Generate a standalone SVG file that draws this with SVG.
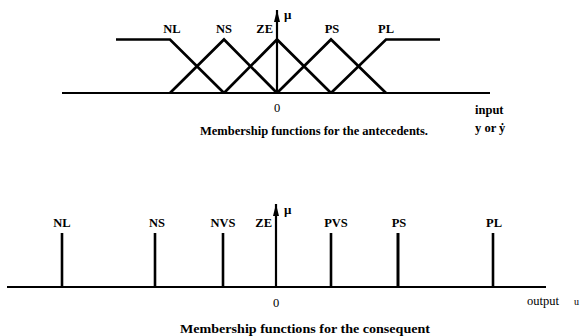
<svg xmlns="http://www.w3.org/2000/svg" width="584" height="336" viewBox="0 0 584 336">
<defs>
<marker id="arr" viewBox="0 0 12 6" refX="12" refY="3" markerWidth="12" markerHeight="6" markerUnits="userSpaceOnUse" orient="auto">
<path d="M12,3 L0,6 L0,0 Z" fill="#000"/>
</marker>
<style>
.ln{stroke:#000;fill:none;stroke-width:2.2}
.mf{stroke:#000;fill:none;stroke-width:2.7;stroke-linejoin:miter}
.stem{stroke:#000;stroke-width:2.6}
.lb{font-family:"Liberation Serif","Times New Roman",serif;font-weight:bold;font-size:12.5px;fill:#000}
.mu{font-family:"Liberation Serif","Times New Roman",serif;font-weight:bold;font-size:13px;fill:#000}
.tx{font-family:"Liberation Serif","Times New Roman",serif;font-size:12.5px;fill:#000}
</style>
</defs>
<rect width="584" height="336" fill="#fff"/>

<g id="connectors">
<line class="ln" x1="62" y1="93" x2="490" y2="93"/>
<line class="ln" x1="277" y1="93" x2="277" y2="10" marker-end="url(#arr)"/>
<line class="ln" x1="7" y1="287" x2="546" y2="287"/>
<line class="ln" x1="276" y1="287" x2="276" y2="204" marker-end="url(#arr)"/>
</g>

<g id="antecedents">
<g id="mf-NL"><polyline class="mf" points="116,39.5 170,39.5 224,93"/><text class="lb" x="172" y="33" text-anchor="middle">NL</text></g>
<g id="mf-NS"><polyline class="mf" points="170,93 224,39.5 277,93"/><text class="lb" x="224" y="33" text-anchor="middle">NS</text></g>
<g id="mf-ZE"><polyline class="mf" points="224,93 277,39.5 331,93"/><text class="lb" x="273" y="33" text-anchor="end">ZE</text></g>
<g id="mf-PS"><polyline class="mf" points="277,93 331,39.5 386,93"/><text class="lb" x="332" y="33" text-anchor="middle">PS</text></g>
<g id="mf-PL"><polyline class="mf" points="331,93 386,39.5 440,39.5"/><text class="lb" x="386" y="33" text-anchor="middle">PL</text></g>
<text class="mu" x="284" y="19">μ</text>
<text class="tx" x="277" y="112" text-anchor="middle">0</text>
<text class="lb" x="475" y="114">input</text>
<text class="lb" x="475" y="132">y or ẏ</text>
<text class="lb" x="200" y="135" textLength="228" lengthAdjust="spacingAndGlyphs">Membership functions for the antecedents.</text>
</g>

<g id="consequent">
<g id="s-NL"><line class="stem" x1="62" y1="233" x2="62" y2="287"/><text class="lb" x="62" y="227" text-anchor="middle">NL</text></g>
<g id="s-NS"><line class="stem" x1="155" y1="233" x2="155" y2="287"/><text class="lb" x="157" y="227" text-anchor="middle">NS</text></g>
<g id="s-NVS"><line class="stem" x1="223" y1="233" x2="223" y2="287"/><text class="lb" x="223" y="227" text-anchor="middle">NVS</text></g>
<g id="s-ZE"><text class="lb" x="272" y="227" text-anchor="end">ZE</text></g>
<g id="s-PVS"><line class="stem" x1="331" y1="233" x2="331" y2="287"/><text class="lb" x="336" y="227" text-anchor="middle">PVS</text></g>
<g id="s-PS"><line class="stem" x1="398" y1="233" x2="398" y2="287" style="stroke-width:3"/><text class="lb" x="399" y="227" text-anchor="middle">PS</text></g>
<g id="s-PL"><line class="stem" x1="493" y1="233" x2="493" y2="287"/><text class="lb" x="494" y="227" text-anchor="middle">PL</text></g>
<text class="mu" x="284" y="214">μ</text>
<text class="tx" x="276" y="307" text-anchor="middle">0</text>
<text class="tx" x="527" y="305">output</text>
<text class="tx" x="574" y="305" style="font-size:10px">u</text>
<text class="lb" x="180" y="333" textLength="250" lengthAdjust="spacingAndGlyphs" style="font-size:13.5px">Membership functions for the consequent</text>
</g>
</svg>
